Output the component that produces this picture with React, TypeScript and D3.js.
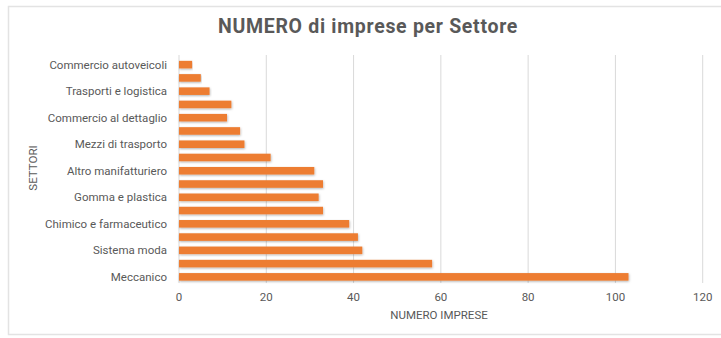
import React from "react";
import * as d3 from "d3";

const categories = [
  "Commercio autoveicoli", "", "Trasporti e logistica", "", "Commercio al dettaglio", "",
  "Mezzi di trasporto", "", "Altro manifatturiero", "", "Gomma e plastica", "",
  "Chimico e farmaceutico", "", "Sistema moda", "", "Meccanico",
];
const values = [3, 5, 7, 12, 11, 14, 15, 21, 31, 33, 32, 33, 39, 41, 42, 58, 103];
const xTicks = [0, 20, 40, 60, 80, 100, 120];
const title = "NUMERO di imprese per Settore";
const xTitle = "NUMERO IMPRESE";
const yTitle = "SETTORI";

const W = 721, H = 338;
const FONT = "Roboto, 'Noto Sans', sans-serif";
const TXT = "#595959";

export default function App() {
  const x = d3.scaleLinear().domain([0, 120]).range([179, 702.7]);
  const idx = categories.map((_, i) => String(i));
  const y = d3.scaleBand().domain(idx).range([58, 283.5]).paddingInner(0.43).paddingOuter(0.215);
  return (
    <svg width={W} height={H} style={{ position: "absolute", left: 0, top: 0, background: "#fff" }} fontFamily={FONT}>
      <defs>
        <filter id="sh" x="-5%" y="-50%" width="110%" height="220%">
          <feDropShadow dx="0.5" dy="1" stdDeviation="0.8" floodColor="#000" floodOpacity="0.3" />
        </filter>
      </defs>
      <rect x={8.5} y={6.5} width={W + 5} height={328} fill="#fff" stroke="#e3e3e3" strokeWidth={1.5} />
      <text x={368} y={33} textAnchor="middle" fontSize={19.5} fontWeight="bold" letterSpacing={0.7} fill={TXT}>{title}</text>
      {xTicks.map((t) => (
        <g key={t}>
          <line x1={x(t)} x2={x(t)} y1={55} y2={283} stroke="#d9d9d9" strokeWidth={1} />
          <text x={x(t)} y={300.5} textAnchor="middle" fontSize={11.5} fill={TXT}>{t}</text>
        </g>
      ))}
      {values.map((v, i) => (
        <rect key={i} x={x(0)} y={y(String(i))} width={x(v) - x(0)} height={y.bandwidth()} fill="#ED7D31" filter="url(#sh)" />
      ))}
      {categories.map((c, i) =>
        c ? (
          <text key={i} x={167} y={(y(String(i)) as number) + y.bandwidth() / 2} dy="0.35em" textAnchor="end" fontSize={11.5} fill={TXT}>{c}</text>
        ) : null
      )}
      <text x={439} y={319} textAnchor="middle" fontSize={11.5} fill={TXT}>{xTitle}</text>
      <text transform="translate(37,168) rotate(-90)" textAnchor="middle" fontSize={11.5} fill={TXT}>{yTitle}</text>
    </svg>
  );
}
